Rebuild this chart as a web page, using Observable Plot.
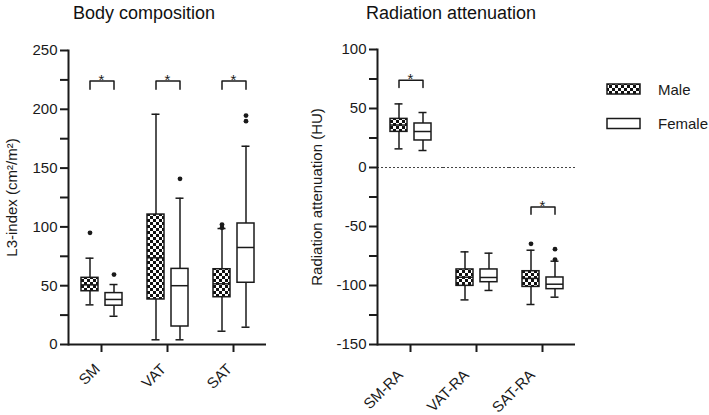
<!DOCTYPE html>
<html><head><meta charset="utf-8">
<script src="https://cdn.jsdelivr.net/npm/d3@7"></script>
<script src="https://cdn.jsdelivr.net/npm/@observablehq/plot@0.6"></script>
<style>
body{margin:0;background:#fff;font-family:"Liberation Sans",Arial,sans-serif;}
#wrap{position:relative;width:709px;height:415px;overflow:hidden;background:#fff;}
#wrap > * {position:absolute;top:0;}
.title{width:300px;text-align:center;font-size:18px;color:#111;line-height:20px;}
</style></head><body>
<svg width="0" height="0" style="position:absolute"><defs>
<pattern id="checker" width="6" height="6" patternUnits="userSpaceOnUse">
<rect width="6" height="6" fill="#fff"/><rect width="3" height="3" fill="#111"/><rect x="3" y="3" width="3" height="3" fill="#111"/>
</pattern></defs></svg>
<div id="wrap"></div>
<script>
// ---------- data ----------
const sexes = ["Male", "Female"];
const bodyCategories = ["SM", "VAT", "SAT"];
const raCategories = ["SM-RA", "VAT-RA", "SAT-RA"];
// [lower whisker, Q1, median, Q3, upper whisker]
const bodyMale   = [[33.7, 45.3, 50.7, 56.7, 73.4], [4, 38.3, 73.7, 110.5, 195.8], [11.3, 40.2, 51.6, 64, 98.6]];
const bodyFemale = [[24, 33, 38.3, 43.7, 51], [4, 15.3, 50, 64.3, 124.4], [14.7, 52.5, 82.5, 102.9, 168.6]];
const bodyMaleOutliers   = [[95], [], [99.2, 102]];
const bodyFemaleOutliers = [[59.5], [140.9], [189.9, 194.7]];
const raMale   = [[15.8, 30.2, 36, 41.2, 53.9], [-112.2, -100.3, -93, -86.4, -71.5], [-116.1, -101.2, -94, -87.9, -70.1]];
const raFemale = [[14.4, 22.9, 30.5, 37.3, 46.6], [-104.2, -97.2, -93.2, -86.4, -72.6], [-109.9, -103.1, -98.9, -93.2, -79.4]];
const raMaleOutliers   = [[], [], [-64.7]];
const raFemaleOutliers = [[], [], [-69.2, -78]];
// significance brackets: category, bracket top, bracket end
const bodySigCats = ["SM", "VAT", "SAT"];
const bodySigTop  = [224, 224, 224];
const bodySigEnd  = [217, 217, 217];
const raSigCats = ["SM-RA", "SAT-RA"];
const raSigTop  = [74, -33.4];
const raSigEnd  = [67.8, -39.6];
const bodyTicks = d3.range(0, 251, 25);
const raTicks = d3.range(-150, 101, 25);

// ---------- helpers ----------
function boxRows(cats, male, female) {
  const rows = [];
  cats.forEach((c, i) => {
    [[sexes[0], male[i]], [sexes[1], female[i]]].forEach(([s, v]) =>
      rows.push({cat: c, sex: s, lo: v[0], q1: v[1], med: v[2], q3: v[3], hi: v[4]}));
  });
  return rows;
}
function outlierRows(cats, male, female) {
  const rows = [];
  cats.forEach((c, i) => {
    male[i].forEach(v => rows.push({cat: c, sex: sexes[0], v}));
    female[i].forEach(v => rows.push({cat: c, sex: sexes[1], v}));
  });
  return rows;
}
function bracketRows(cats, tops, ends) {
  const rows = [];
  cats.forEach((c, i) => {
    rows.push({cat: c, sex: sexes[0], y: ends[i]});
    rows.push({cat: c, sex: sexes[0], y: tops[i]});
    rows.push({cat: c, sex: sexes[1], y: tops[i]});
    rows.push({cat: c, sex: sexes[1], y: ends[i]});
  });
  return rows;
}
const INK = "#1a1a1a";
const FONT = '"Liberation Sans", Arial, sans-serif';

function panel({cats, boxes, outliers, brackets, sig, domain, ticks, label, labelOffset, marginLeft, marginRight, marginTop, marginBottom, zeroLine, fxDx, fxDy}) {
  return Plot.plot({
    width: 300, height: 415, marginLeft, marginRight, marginTop, marginBottom,
    style: {fontFamily: FONT, fontSize: "15px", color: INK, background: "transparent", overflow: "visible"},
    fx: {domain: cats, padding: 0},
    x: {domain: sexes, paddingInner: 0.3, paddingOuter: 0.5, axis: null},
    y: {domain},
    color: {domain: sexes, range: ["url(#checker)", "#fff"]},
    marks: [
      zeroLine ? Plot.ruleY([0], {stroke: "#444", strokeWidth: 1, strokeDasharray: "2,2"}) : null,
      Plot.frame({anchor: "left", facetAnchor: "left", stroke: INK, strokeWidth: 2}),
      Plot.ruleY([domain[0]], {stroke: INK, strokeWidth: 2}),
      Plot.axisY({ticks, tickFormat: d => d % 50 === 0 ? String(d) : "", tickSize: 8, tickPadding: 3, strokeWidth: 2,
        fontSize: 15, label, labelAnchor: "center", labelArrow: "none", labelOffset}),
      Plot.axisFx({anchor: "bottom", tickSize: 8, strokeWidth: 2, label: null, tickFormat: () => ""}),
      Plot.axisFx({anchor: "bottom", tickRotate: -45, tickSize: 0, tickPadding: 12, label: null, fontSize: 15, dx: fxDx, dy: fxDy, stroke: null}),
      Plot.ruleX(boxes, {fx: "cat", x: "sex", y1: "lo", y2: "hi", stroke: INK, strokeWidth: 1.5}),
      Plot.barY(boxes, {fx: "cat", x: "sex", y1: "q1", y2: "q3", fill: "sex", stroke: INK, strokeWidth: 1.5}),
      Plot.tickY(boxes, {fx: "cat", x: "sex", y: "med", stroke: INK, strokeWidth: 1.5}),
      Plot.tickY(boxes, {fx: "cat", x: "sex", y: "lo", insetLeft: 4.5, insetRight: 4.5, stroke: INK, strokeWidth: 1.5}),
      Plot.tickY(boxes, {fx: "cat", x: "sex", y: "hi", insetLeft: 4.5, insetRight: 4.5, stroke: INK, strokeWidth: 1.5}),
      Plot.dot(outliers, {fx: "cat", x: "sex", y: "v", r: 2.4, fill: INK, stroke: null}),
      Plot.line(brackets, {fx: "cat", x: "sex", y: "y", z: "cat", stroke: INK, strokeWidth: 1.5}),
      Plot.text(sig, {fx: "cat", y: "top", text: () => "*", fontSize: 15, dy: -1, fill: INK})
    ]
  });
}

const wrap = document.getElementById("wrap");

const left = panel({
  cats: bodyCategories,
  boxes: boxRows(bodyCategories, bodyMale, bodyFemale),
  outliers: outlierRows(bodyCategories, bodyMaleOutliers, bodyFemaleOutliers),
  brackets: bracketRows(bodySigCats, bodySigTop, bodySigEnd),
  sig: bodySigCats.map((c, i) => ({cat: c, top: bodySigTop[i]})),
  domain: [0, 250], ticks: bodyTicks,
  label: "L3-index (cm²/m²)", labelOffset: 62,
  marginLeft: 68, marginRight: 34, marginTop: 50, marginBottom: 71,
  fxDx: -4, fxDy: 10
});
left.style.left = "0px";
wrap.appendChild(left);

const right = panel({
  cats: raCategories,
  boxes: boxRows(raCategories, raMale, raFemale),
  outliers: outlierRows(raCategories, raMaleOutliers, raFemaleOutliers),
  brackets: bracketRows(raSigCats, raSigTop, raSigEnd),
  sig: raSigCats.map((c, i) => ({cat: c, top: raSigTop[i]})),
  domain: [-150, 100], ticks: raTicks,
  label: "Radiation attenuation (HU)", labelOffset: 66,
  marginLeft: 77, marginRight: 25, marginTop: 49, marginBottom: 71, zeroLine: true,
  fxDx: -10, fxDy: 16
});
right.style.left = "300px";
wrap.appendChild(right);

// titles
[["Body composition", 144], ["Radiation attenuation", 451]].forEach(([t, cx]) => {
  const d = document.createElement("div");
  d.className = "title";
  d.textContent = t;
  d.style.left = (cx - 150) + "px";
  d.style.top = "3px";
  wrap.appendChild(d);
});

// legend
const ns = "http://www.w3.org/2000/svg";
const leg = document.createElementNS(ns, "svg");
leg.setAttribute("width", 109); leg.setAttribute("height", 80);
leg.style.left = "600px"; leg.style.top = "70px";
sexes.forEach((s, i) => {
  const y = 14 + i * 34.5;
  const r = document.createElementNS(ns, "rect");
  r.setAttribute("x", 7); r.setAttribute("y", y); r.setAttribute("width", 33); r.setAttribute("height", 10);
  r.setAttribute("fill", i === 0 ? "url(#checker)" : "#fff");
  r.setAttribute("stroke", INK); r.setAttribute("stroke-width", 1.5);
  leg.appendChild(r);
  const t = document.createElementNS(ns, "text");
  t.setAttribute("x", 58); t.setAttribute("y", y + 5);
  t.setAttribute("dominant-baseline", "central");
  t.setAttribute("font-family", FONT); t.setAttribute("font-size", 15); t.setAttribute("fill", INK);
  t.textContent = s;
  leg.appendChild(t);
});
wrap.appendChild(leg);
</script>
</body></html>
